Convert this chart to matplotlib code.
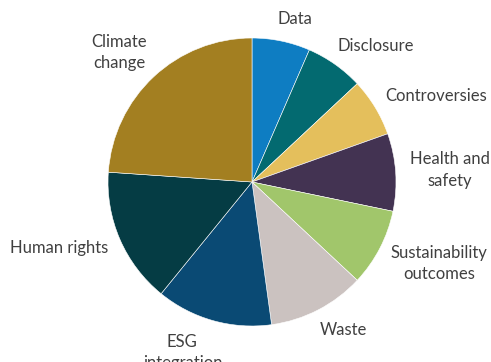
import numpy as np
import matplotlib
matplotlib.use('Agg')
import matplotlib.pyplot as plt

topics = ["Data", "Disclosure", "Controversies", "Health and\nsafety",
          "Sustainability\noutcomes", "Waste", "ESG\nintegration",
          "Human rights", "Climate\nchange"]
counts = [3, 3, 3, 4, 4, 5, 6, 7, 11]
colors = ["#0E7DC2", "#036A70", "#E4BF5C", "#433352", "#A1C66B",
          "#CBC2C0", "#0A4A74", "#053C44", "#A37F21"]

W, H = 491, 362
cx, cy, rad = 252, 182, 144

fig = plt.figure(figsize=(W / 100, H / 100), dpi=100)
ax = fig.add_axes([0, 0, 1, 1])
wedges, _ = ax.pie(counts, colors=colors, startangle=90, counterclock=False,
                   wedgeprops=dict(edgecolor="white", linewidth=0.4))
ax.set_aspect("auto")
ax.set_xlim(-cx / rad, (W - cx) / rad)
ax.set_ylim(-(H - cy) / rad, cy / rad)
ax.axis("off")

renderer = fig.canvas.get_renderer()
r_lab = 1.1
for w, lab in zip(wedges, topics):
    ang = np.deg2rad((w.theta1 + w.theta2) / 2)
    c, s = np.cos(ang), np.sin(ang)
    t = ax.text(r_lab * c, r_lab * s, lab, ha="center", va="center",
                fontsize=12, family="Lato", color="#404040",
                multialignment="center", linespacing=1.4)
    bb = t.get_window_extent(renderer)
    px, py = ax.transData.transform((r_lab * c, r_lab * s))
    px += np.sign(c) * abs(c) ** 0.3 * bb.width / 2
    py += s * bb.height / 2
    t.set_position(ax.transData.inverted().transform((px, py)))

fig.savefig("out.png", dpi=100)
